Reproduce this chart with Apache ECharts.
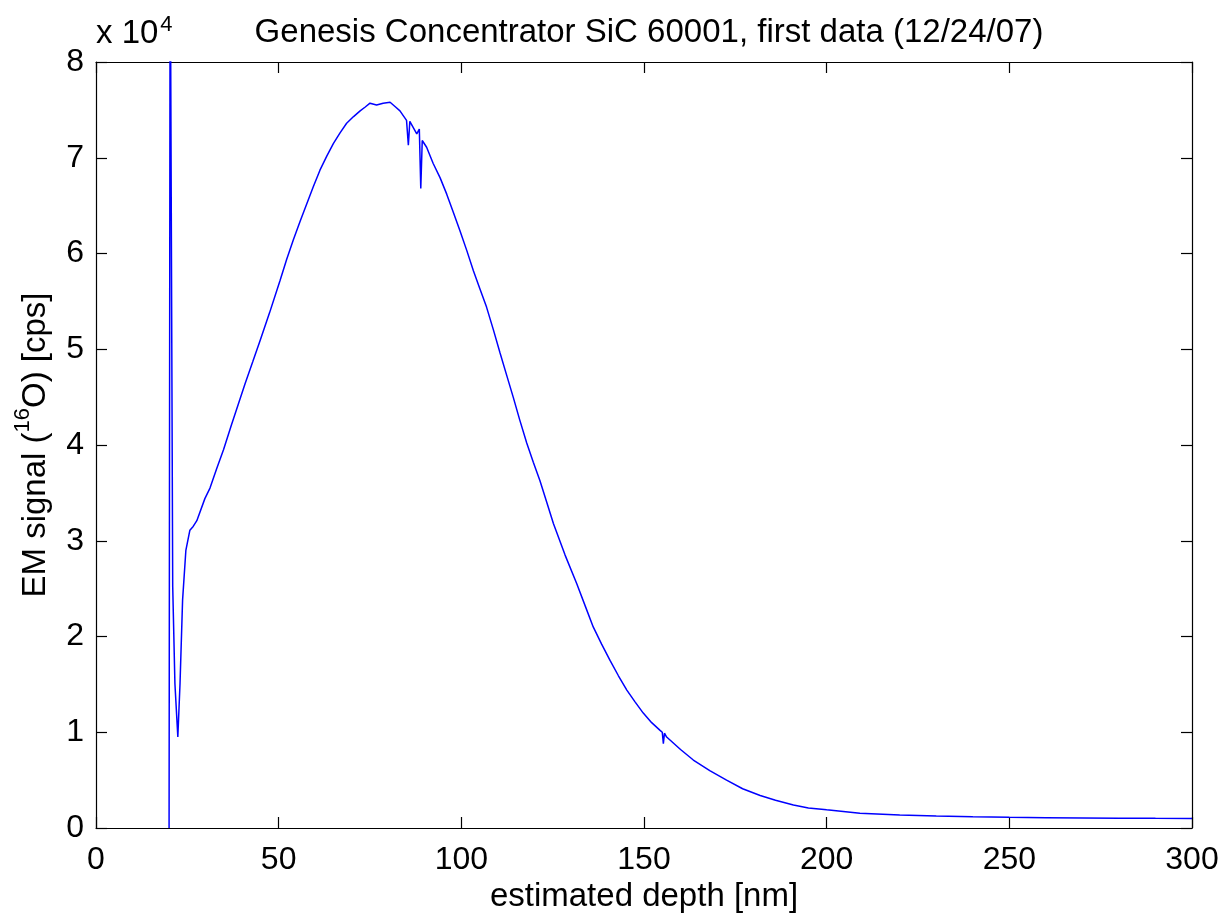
<!DOCTYPE html>
<html>
<head>
<meta charset="utf-8">
<script src="https://cdn.jsdelivr.net/npm/echarts@6/dist/echarts.min.js"></script>
<style>
  html, body { margin: 0; padding: 0; background: #fff; }
  #chart { width: 1222px; height: 914px; }
</style>
</head>
<body>
<div id="chart"></div>
<script>
// depth [nm]
const depth = [
  20.0, 20.3, 21.0, 21.6, 22.4, 23.0, 23.7, 24.6, 25.7, 26.6, 27.6, 29.8, 31.2, 33.0, 34.9,
  37.0, 38.9, 40.8, 42.9, 44.9, 47.5, 50.4, 52.2, 54.0, 55.9, 57.7, 59.5, 61.3, 63.2, 65.0,
  66.8, 68.6, 70.5, 72.3, 73.7, 75.0, 76.8, 78.6, 80.5, 82.0, 83.2, 85.0, 85.5, 85.9, 86.4,
  87.8, 88.5, 88.9, 89.3, 90.5, 92.3, 94.2, 96.0, 97.8, 99.6, 101.5, 103.3, 105.1, 106.9,
  108.8, 110.6, 112.4, 114.2, 116.0, 117.9, 119.7, 121.5, 123.4, 125.2, 128.4, 131.6, 133.9,
  136.1, 138.4, 140.7, 143.0, 145.3, 147.5, 149.8, 152.1, 154.4, 155.0, 155.3, 155.6, 156.2,
  160.0, 163.5, 168.0, 172.6, 177.0, 181.8, 186.0, 190.9, 195.0, 200.0, 209.1, 220, 230, 240,
  250, 260, 270, 280, 290, 300
];
// EM signal (16O) [cps]
const signal = [
  0, 95000, 25200, 15100, 9500, 15100, 23800, 29000, 31100, 31500, 32100, 34400, 35500, 37500, 39500,
  42000, 44200, 46400, 48700, 50900, 53800, 57200, 59400, 61400, 63400, 65200, 67000, 68700, 70200, 71500,
  72600, 73600, 74300, 74900, 75300, 75700, 75500, 75700, 75800, 75300, 74900, 73900, 71300, 73800, 73700,
  72500, 73000, 66800, 71800, 71100, 69400, 67900, 66200, 64300, 62400, 60300, 58200, 56300, 54400,
  52000, 49600, 47300, 45000, 42600, 40200, 38200, 36300, 34000, 31800, 28500, 25500, 23200,
  21000, 19200, 17500, 15900, 14400, 13200, 12000, 11000, 10200, 10000, 8800, 9900, 9500,
  8200, 7100, 6000, 5000, 4100, 3400, 2900, 2400, 2100, 1900, 1550, 1350, 1250, 1180,
  1120, 1080, 1050, 1030, 1010, 1000
];
const xTicks = [0, 50, 100, 150, 200, 250, 300];
const yTicks = [0, 1, 2, 3, 4, 5, 6, 7, 8];

const font = 'Liberation Sans';
const fs = 33;

let points = depth.map((d, i) => [d, signal[i]]);

// box axes (matlab style: ticks inside on all four sides)
function boxLine () {
  return { onZero: false, lineStyle: { color: '#000', width: 1.2 } }
}
function boxTick () {
  return { inside: true, length: 11, lineStyle: { color: '#000', width: 1.2 } }
}

let myChart = echarts.init(document.getElementById('chart'));
let option = {
  animation: false,
  backgroundColor: '#fff',
  title: {
    text: 'Genesis Concentrator SiC 60001, first data (12/24/07)',
    left: 644,
    textAlign: 'center',
    top: 11,
    textStyle: { fontFamily: font, fontSize: fs, fontWeight: 'normal', color: '#000' }
  },
  graphic: [{
    type: 'text',
    left: 96,
    top: 14,
    style: {
      text: '{a|x 10}{s|4}',
      rich: {
        a: { fontFamily: font, fontSize: fs, fill: '#000', verticalAlign: 'bottom', lineHeight: 36 },
        s: { fontFamily: font, fontSize: 22, fill: '#000', verticalAlign: 'top', lineHeight: 36, padding: [0, 0, 14, 2] }
      }
    }
  }],
  grid: { left: 96, right: 30, top: 62, bottom: 86, show: false, outerBoundsMode: 'none', containLabel: false },
  xAxis: [{
    type: 'value',
    min: 0, max: 300, interval: 50,
    name: 'estimated depth [nm]',
    nameLocation: 'middle',
    nameGap: 48,
    nameTextStyle: { fontFamily: font, fontSize: fs, color: '#000' },
    axisLine: boxLine(),
    axisTick: boxTick(),
    axisLabel: {
      fontFamily: font, fontSize: 32, color: '#000', margin: 16,
      formatter: v => String(xTicks[Math.round(v / 50)])
    },
    splitLine: { show: false }
  }, {
    type: 'value',
    position: 'top',
    min: 0, max: 300, interval: 50,
    axisLine: boxLine(),
    axisTick: boxTick(),
    axisLabel: { show: false },
    splitLine: { show: false }
  }],
  yAxis: [{
    type: 'value',
    min: 0, max: 80000, interval: 10000,
    name: '{a|EM signal (}{s|16}{a|O) [cps]}',
    nameLocation: 'middle',
    nameGap: 44,
    nameTextStyle: {
      rich: {
        a: { fontFamily: font, fontSize: fs, color: '#000', verticalAlign: 'bottom', lineHeight: 40 },
        s: { fontFamily: font, fontSize: 22, color: '#000', verticalAlign: 'top', lineHeight: 40, padding: [0, 0, 14, 0] }
      }
    },
    axisLine: boxLine(),
    axisTick: boxTick(),
    axisLabel: {
      fontFamily: font, fontSize: 32, color: '#000', margin: 12,
      formatter: v => String(yTicks[Math.round(v / 10000)])
    },
    splitLine: { show: false }
  }, {
    type: 'value',
    position: 'right',
    min: 0, max: 80000, interval: 10000,
    axisLine: boxLine(),
    axisTick: boxTick(),
    axisLabel: { show: false },
    splitLine: { show: false }
  }],
  series: [{
    type: 'line',
    data: points,
    showSymbol: false,
    symbol: 'none',
    clip: true,
    lineStyle: { color: '#0000ff', width: 1.5 }
  }]
};
myChart.setOption(option);
</script>
</body>
</html>
